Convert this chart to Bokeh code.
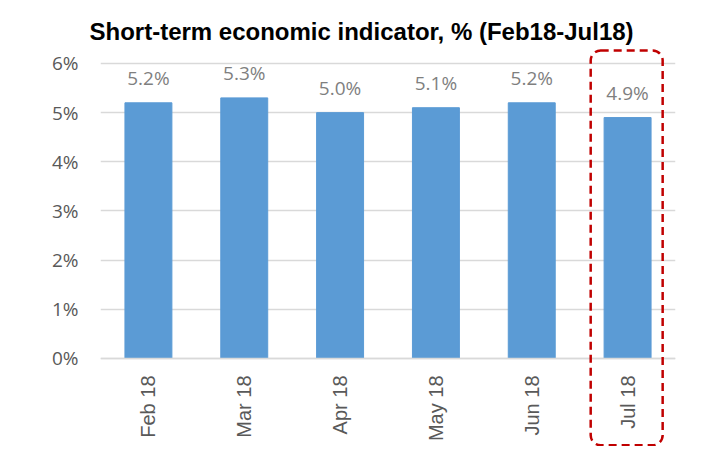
import math
from bokeh.plotting import figure
from bokeh.models import (ColumnDataSource, FactorRange, Range1d, LabelSet,
                          BoxAnnotation, PrintfTickFormatter, FixedTicker)
from bokeh.core.properties import value
from bokeh.embed import file_html
from bokeh.resources import INLINE

months = ["Feb 18", "Mar 18", "Apr 18", "May 18", "Jun 18", "Jul 18"]
values = [5.2, 5.3, 5.0, 5.1, 5.2, 4.9]
value_labels = ["5.2%", "5.3%", "5.0%", "5.1%", "5.2%", "4.9%"]
y_ticks = [0, 1, 2, 3, 4, 5, 6]
highlight = "Jul 18"

src = ColumnDataSource(dict(month=months, value=values, label=value_labels))

p = figure(width=702, height=446, x_range=FactorRange(*months, range_padding=0),
           y_range=Range1d(-1.79, 6.345), output_backend="svg", toolbar_location=None,
           min_border_left=100, min_border_right=27, min_border_top=46,
           min_border_bottom=0)
p.outline_line_color = None
p.background_fill_color = "white"

p.title.text = "Short-term economic indicator, % (Feb18-Jul18)"
p.title.text_font = "Liberation Sans"
p.title.text_font_style = "bold"
p.title.text_font_size = "24px"
p.title.text_color = "black"
p.title.align = "left"
p.title.offset = -11
p.title.vertical_align = "top"
p.title.standoff = 0
p.title.text_line_height = 0.7

p.vbar(x="month", top="value", width=0.49, source=src,
       fill_color="#5B9BD5", line_color="#5B9BD5")

labels = LabelSet(x="month", y="value", text="label", source=src,
                  text_align="center", text_baseline="middle", y_offset=25,
                  text_font=value("Open Sans"), text_font_size="19px",
                  text_color="#7F7F7F")
p.add_layout(labels)

idx = months.index(highlight)
box = BoxAnnotation(left=idx + 0.115, right=idx + 0.866, top=6.264, bottom=-1.765,
                    fill_alpha=0, line_color="#C00000", line_alpha=1,
                    line_width=2.5, line_dash="8 5", border_radius=10)
p.add_layout(box)

p.yaxis.ticker = FixedTicker(ticks=y_ticks)
p.yaxis.formatter = PrintfTickFormatter(format="%d%%")
p.yaxis.axis_line_color = None
p.yaxis.major_tick_line_color = None
p.yaxis.minor_tick_line_color = None
p.yaxis.major_tick_out = 0
p.yaxis.major_tick_in = 0
p.yaxis.major_label_standoff = 22
p.yaxis.major_label_text_font = "Open Sans"
p.yaxis.major_label_text_font_size = "19px"
p.yaxis.major_label_text_color = "#595959"

p.xaxis.fixed_location = 0
p.xaxis.axis_line_color = "#D9D9D9"
p.xaxis.axis_line_width = 1.5
p.xaxis.major_tick_line_color = None
p.xaxis.minor_tick_line_color = None
p.xaxis.major_tick_out = 0
p.xaxis.major_tick_in = 0
p.xaxis.major_label_orientation = math.pi / 2
p.xaxis.major_label_standoff = 17
p.xaxis.major_label_text_font = "Liberation Sans"
p.xaxis.major_label_text_font_size = "20px"
p.xaxis.major_label_text_color = "#595959"

p.xgrid.grid_line_color = None
p.ygrid.grid_line_color = "#D9D9D9"
p.ygrid.grid_line_width = 1.5

open("out.html", "w").write(file_html(p, INLINE))
